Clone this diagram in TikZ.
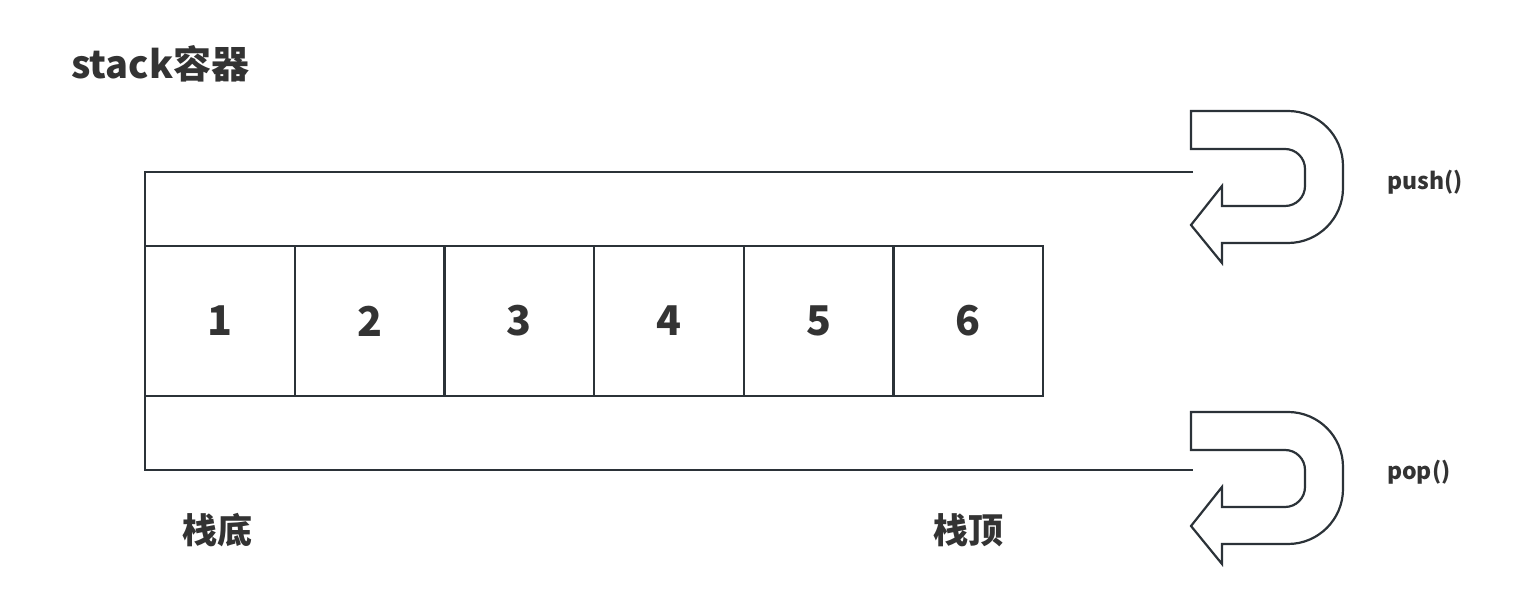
\documentclass[tikz,border=0pt]{standalone}
\usepackage{fontspec}
\setmainfont{Noto Sans CJK SC}
\usetikzlibrary{positioning}
\definecolor{LineGray}{HTML}{2B3238}
\definecolor{TextGray}{HTML}{333333}

\begin{document}
\begin{tikzpicture}[
    x=1pt, y=1pt,
    wall/.style={draw=LineGray, line width=2.2pt},
    cell/.style={draw=LineGray, line width=2.2pt, minimum width=149.7pt, minimum height=150pt,
        inner sep=0pt, outer sep=0pt, text=TextGray, font=\bfseries\fontsize{41}{44}\selectfont},
    head/.style={text=TextGray, inner sep=0pt, font=\bfseries\fontsize{38}{41}\selectfont},
    side/.style={text=TextGray, inner sep=0pt, font=\bfseries\fontsize{35}{38}\selectfont},
    fn/.style={text=TextGray, inner sep=0pt, font=\bfseries\fontsize{23}{26}\selectfont},
    uturn/.pic={
        \draw[wall, line join=miter, fill=white] (0,0) -- (97,0)
            arc[start angle=90, end angle=0, radius=55pt] -- (152,-77)
            arc[start angle=0, end angle=-90, radius=55pt] -- (31,-132)
            -- (31,-152) -- (0,-114) -- (31,-75) -- (31,-95) -- (94,-95)
            arc[start angle=-90, end angle=0, radius=20pt] -- (114,-58)
            arc[start angle=0, end angle=90, radius=20pt] -- (0,-38) -- cycle;
    },
]
\useasboundingbox (0,0) rectangle (1535,599);

% titel
\node[head, anchor=base west] (title) at (71,520) {stack容器};

% ================= elemente =================
\node[cell] (c1) at (219.85,278) {1};
\node[cell, right=0pt of c1] (c2) {2};
\node[cell, right=0pt of c2] (c3) {3};
\node[cell, right=0pt of c3] (c4) {4};
\node[cell, right=0pt of c4] (c5) {5};
\node[cell, right=0pt of c5] (c6) {6};

% ================= rahmen + pfeile =================
\pic (pusharrow) at (1191,488) {uturn};
\pic (poparrow) at (1191,187) {uturn};
\coordinate (pushin) at (1193,427);
\coordinate (popout) at (1193,129);
\draw[wall] (pushin) -- (c1.west |- pushin) -- (c1.west |- popout) -- (popout);

\node[fn, anchor=base west] (push) at (1387,409) {push()};
\node[fn, anchor=base west] (pop) at (1387,119) {pop()};

% boden und spitze
\node[side] (bottom) at (217.5,69) {栈底};
\node[side] (top) at (968,69) {栈顶};

\end{tikzpicture}
\end{document}
